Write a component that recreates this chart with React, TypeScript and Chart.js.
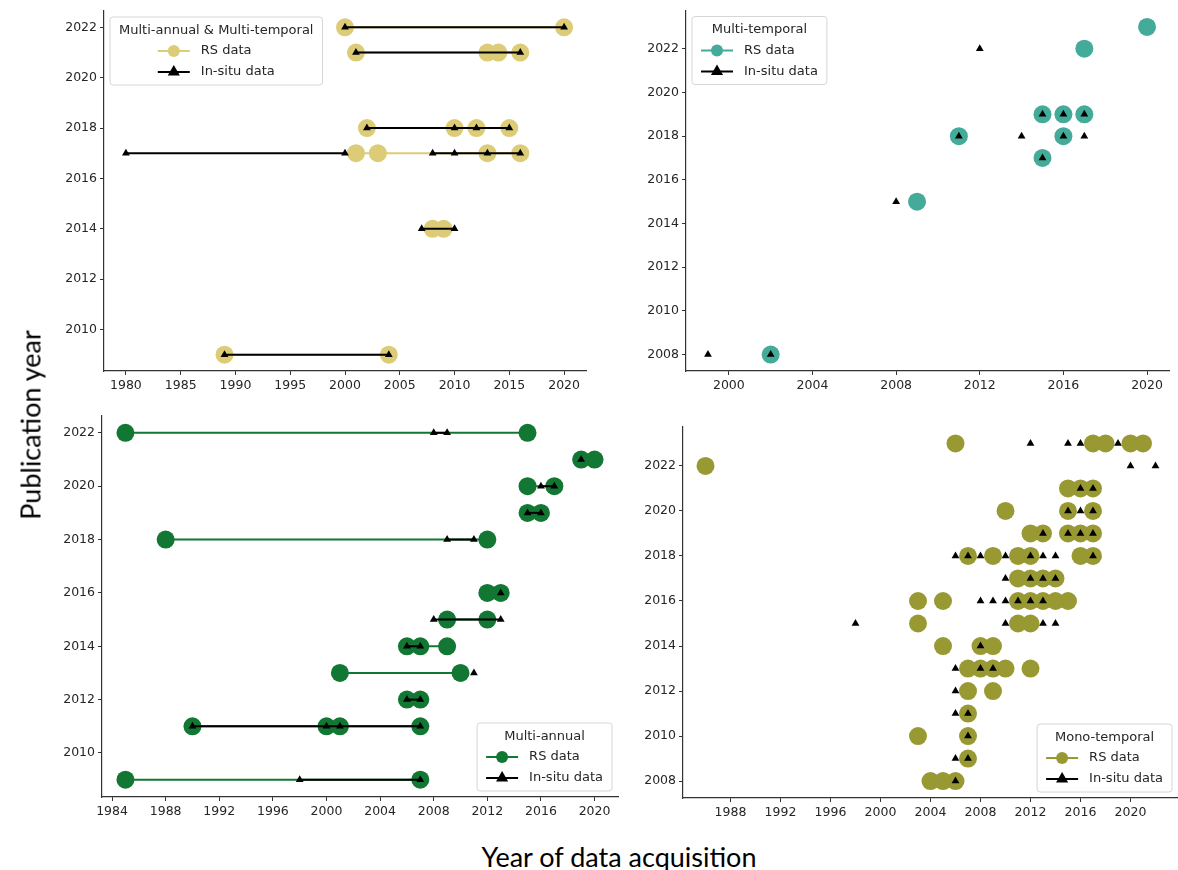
import React, { useEffect, useRef } from "react";
import { Chart, registerables } from "chart.js";

Chart.register(...registerables);

type Row = [number, number[]]; // [publication year, years of data acquisition]

const SAND = "#DDCC77";
const TEAL = "#44AA99";
const GREEN = "#117733";
const OLIVE = "#999933";

// ---------- Panel A: Multi-annual & Multi-temporal ----------
const mamtRs: Row[] = [
  [2022, [2000, 2020]],
  [2021, [2001, 2013, 2014, 2016]],
  [2018, [2002, 2010, 2012, 2015]],
  [2017, [2001, 2003, 2013, 2016]],
  [2014, [2008, 2009]],
  [2009, [1989, 2004]],
];
const mamtInsitu: Row[] = [
  [2022, [2000, 2020]],
  [2021, [2001, 2016]],
  [2018, [2002, 2010, 2012, 2015]],
  [2017, [1980, 2000]],
  [2017, [2008, 2010, 2013, 2016]],
  [2014, [2007, 2010]],
  [2009, [1989, 2004]],
];
const mamtXTicks = [1980, 1985, 1990, 1995, 2000, 2005, 2010, 2015, 2020];
const mamtYTicks = [2010, 2012, 2014, 2016, 2018, 2020, 2022];

// ---------- Panel B: Multi-temporal ----------
const mtRs: Row[] = [
  [2023, [2020]],
  [2022, [2017]],
  [2019, [2015, 2016, 2017]],
  [2018, [2011, 2016]],
  [2017, [2015]],
  [2015, [2009]],
  [2008, [2002]],
];
const mtInsitu: Row[] = [
  [2022, [2012]],
  [2019, [2015, 2016, 2017]],
  [2018, [2011, 2014, 2016, 2017]],
  [2017, [2015]],
  [2015, [2008]],
  [2008, [1999, 2002]],
];
const mtXTicks = [2000, 2004, 2008, 2012, 2016, 2020];
const mtYTicks = [2008, 2010, 2012, 2014, 2016, 2018, 2020, 2022];

// ---------- Panel C: Multi-annual ----------
const maRs: Row[] = [
  [2022, [1985, 2015]],
  [2021, [2019, 2020]],
  [2020, [2015, 2017]],
  [2019, [2015, 2016]],
  [2018, [1988, 2012]],
  [2016, [2012, 2013]],
  [2015, [2009, 2012]],
  [2014, [2006, 2007, 2009]],
  [2013, [2001, 2010]],
  [2012, [2006, 2007]],
  [2011, [1990, 2000, 2001, 2007]],
  [2009, [1985, 2007]],
];
const maInsitu: Row[] = [
  [2022, [2008, 2009]],
  [2021, [2019]],
  [2020, [2016, 2017]],
  [2019, [2015, 2016]],
  [2018, [2009, 2011]],
  [2016, [2013]],
  [2015, [2008, 2013]],
  [2014, [2006, 2007]],
  [2013, [2011]],
  [2012, [2006, 2007]],
  [2011, [1990, 2000, 2001, 2007]],
  [2009, [1998, 2007]],
];
const maXTicks = [1984, 1988, 1992, 1996, 2000, 2004, 2008, 2012, 2016, 2020];
const maYTicks = [2010, 2012, 2014, 2016, 2018, 2020, 2022];

// ---------- Panel D: Mono-temporal ----------
const monoRs: Row[] = [
  [2023, [2006, 2017, 2018, 2020, 2021]],
  [2022, [1986]],
  [2021, [2015, 2016, 2017]],
  [2020, [2010, 2015, 2017]],
  [2019, [2012, 2013, 2015, 2016, 2017]],
  [2018, [2007, 2009, 2011, 2012, 2016, 2017]],
  [2017, [2011, 2012, 2013, 2014]],
  [2016, [2003, 2005, 2011, 2012, 2013, 2014, 2015]],
  [2015, [2003, 2011, 2012]],
  [2014, [2005, 2008, 2009]],
  [2013, [2007, 2008, 2009, 2010, 2012]],
  [2012, [2007, 2009]],
  [2011, [2007]],
  [2010, [2003, 2007]],
  [2009, [2007]],
  [2008, [2004, 2005, 2006]],
];
const monoInsitu: Row[] = [
  [2023, [2012, 2015, 2016, 2019]],
  [2022, [2020, 2022]],
  [2021, [2016, 2017]],
  [2020, [2015, 2016, 2017]],
  [2019, [2013, 2015, 2016, 2017]],
  [2018, [2006, 2007, 2008, 2010, 2012, 2013, 2014, 2017]],
  [2017, [2010, 2012, 2013, 2014]],
  [2016, [2008, 2009, 2010, 2011, 2012, 2013]],
  [2015, [1998, 2010, 2013, 2014]],
  [2014, [2008]],
  [2013, [2006, 2008, 2009]],
  [2012, [2006]],
  [2011, [2006, 2007]],
  [2010, [2007]],
  [2009, [2006, 2007]],
  [2008, [2006]],
];
const monoXTicks = [1988, 1992, 1996, 2000, 2004, 2008, 2012, 2016, 2020];
const monoYTicks = [2008, 2010, 2012, 2014, 2016, 2018, 2020, 2022];

const FONT = '"DejaVu Sans", sans-serif';
const AXIS_COLOR = "#333333";
const TEXT_COLOR = "#262626";

type PanelProps = {
  left: number;
  top: number;
  width: number;
  height: number;
  padTop: number;
  padRight: number;
  xMin: number;
  xMax: number;
  yMin: number;
  yMax: number;
  xTicks: number[];
  yTicks: number[];
  rs: Row[];
  insitu: Row[];
  color: string;
  lines: boolean;
  title: string;
  corner: "tl" | "br";
};

function Panel(p: PanelProps) {
  const ref = useRef<HTMLCanvasElement | null>(null);

  useEffect(() => {
    if (!ref.current) return;

    const datasets: any[] = [];
    p.insitu.forEach(([pub, xs]) => {
      datasets.push({
        data: xs.map((x) => ({ x, y: pub })),
        showLine: p.lines,
        borderColor: "#000000",
        borderWidth: 2,
        pointStyle: "triangle",
        pointRadius: 4.5,
        pointBackgroundColor: "#000000",
        pointBorderColor: "#000000",
        pointBorderWidth: 0,
        order: 0,
        clip: false,
      });
    });
    p.rs.forEach(([pub, xs]) => {
      datasets.push({
        data: xs.map((x) => ({ x, y: pub })),
        showLine: p.lines,
        borderColor: p.color,
        borderWidth: 2,
        pointStyle: "circle",
        pointRadius: 9,
        pointBackgroundColor: p.color,
        pointBorderColor: p.color,
        pointBorderWidth: 0,
        order: 1,
        clip: false,
      });
    });

    const legendPlugin = {
      id: "panelLegend",
      afterDraw(chart: any) {
        const ctx = chart.ctx as CanvasRenderingContext2D;
        const ca = chart.chartArea;
        ctx.save();
        ctx.font = `13px ${FONT}`;
        const entries = ["RS data", "In-situ data"];
        const titleW = ctx.measureText(p.title).width;
        const textW = Math.max(...entries.map((e) => ctx.measureText(e).width));
        const handleL = 32;
        const gap = 11;
        const pad = 9;
        const entryW = handleL + gap + textW;
        const innerW = Math.max(titleW, entryW);
        const boxW = innerW + 2 * pad;
        const boxH = 68;
        const off = 6;
        const bx = p.corner === "tl" ? ca.left + off : ca.right - off - boxW;
        const by = p.corner === "tl" ? ca.top + off : ca.bottom - off - boxH;
        const r = 3;
        ctx.beginPath();
        ctx.moveTo(bx + r, by);
        ctx.lineTo(bx + boxW - r, by);
        ctx.arcTo(bx + boxW, by, bx + boxW, by + r, r);
        ctx.lineTo(bx + boxW, by + boxH - r);
        ctx.arcTo(bx + boxW, by + boxH, bx + boxW - r, by + boxH, r);
        ctx.lineTo(bx + r, by + boxH);
        ctx.arcTo(bx, by + boxH, bx, by + boxH - r, r);
        ctx.lineTo(bx, by + r);
        ctx.arcTo(bx, by, bx + r, by, r);
        ctx.closePath();
        ctx.fillStyle = "rgba(255,255,255,0.85)";
        ctx.fill();
        ctx.strokeStyle = "#d6d6d6";
        ctx.lineWidth = 1;
        ctx.stroke();
        ctx.fillStyle = TEXT_COLOR;
        ctx.textBaseline = "middle";
        ctx.textAlign = "center";
        ctx.fillText(p.title, bx + boxW / 2, by + 13.5);
        const sx = bx + (boxW - entryW) / 2;
        const rows = [by + 34, by + 55];
        const cols = [p.color, "#000000"];
        rows.forEach((yy, i) => {
          ctx.strokeStyle = cols[i];
          ctx.lineWidth = 2;
          ctx.beginPath();
          ctx.moveTo(sx, yy);
          ctx.lineTo(sx + handleL, yy);
          ctx.stroke();
          const cx = sx + handleL / 2;
          ctx.fillStyle = cols[i];
          ctx.beginPath();
          if (i === 0) {
            ctx.arc(cx, yy, 6, 0, Math.PI * 2);
          } else {
            const tr = 7;
            ctx.moveTo(cx, yy - tr);
            ctx.lineTo(cx + tr * 0.866, yy + tr / 2);
            ctx.lineTo(cx - tr * 0.866, yy + tr / 2);
            ctx.closePath();
          }
          ctx.fill();
          ctx.fillStyle = TEXT_COLOR;
          ctx.textAlign = "left";
          ctx.fillText(entries[i], sx + handleL + gap, yy);
        });
        ctx.restore();
      },
    };

    const tickScale = (vals: number[]) => (scale: any) => {
      scale.ticks = vals.map((v) => ({ value: v }));
    };

    const chart = new Chart(ref.current, {
      type: "scatter",
      data: { datasets },
      options: {
        animation: false,
        responsive: false,
        events: [],
        layout: { padding: { top: p.padTop, right: p.padRight, left: 0, bottom: 0 } },
        plugins: { legend: { display: false }, tooltip: { enabled: false } },
        scales: {
          x: {
            type: "linear",
            min: p.xMin,
            max: p.xMax,
            afterBuildTicks: tickScale(p.xTicks),
            afterFit: (s: any) => {
              s.height = 40;
            },
            ticks: {
              autoSkip: false,
              maxRotation: 0,
              padding: 3,
              color: TEXT_COLOR,
              font: { family: FONT, size: 12.5 },
              callback: (v: any) => String(v),
            },
            grid: {
              display: true,
              drawOnChartArea: false,
              drawTicks: true,
              tickLength: 4,
              color: AXIS_COLOR,
              lineWidth: 1,
            },
            border: { display: true, color: AXIS_COLOR, width: 1.2 },
          },
          y: {
            type: "linear",
            min: p.yMin,
            max: p.yMax,
            afterBuildTicks: tickScale(p.yTicks),
            afterFit: (s: any) => {
              s.width = 60;
            },
            ticks: {
              autoSkip: false,
              padding: 3,
              color: TEXT_COLOR,
              font: { family: FONT, size: 12.5 },
              callback: (v: any) => String(v),
            },
            grid: {
              display: true,
              drawOnChartArea: false,
              drawTicks: true,
              tickLength: 4,
              color: AXIS_COLOR,
              lineWidth: 1,
            },
            border: { display: true, color: AXIS_COLOR, width: 1.2 },
          },
        },
      } as any,
      plugins: [legendPlugin],
    });

    return () => chart.destroy();
  }, []);

  return (
    <canvas
      ref={ref}
      width={p.width}
      height={p.height}
      style={{ position: "absolute", left: p.left, top: p.top, width: p.width, height: p.height }}
    />
  );
}

export default function App() {
  return (
    <div
      style={{
        position: "absolute",
        left: 0,
        top: 0,
        width: 1178,
        height: 870,
        overflow: "hidden",
        background: "#ffffff",
      }}
    >
      <Panel
        left={44}
        top={0}
        width={554}
        height={411}
        padTop={11}
        padRight={12}
        xMin={1978}
        xMax={2022}
        yMin={2008.35}
        yMax={2022.65}
        xTicks={mamtXTicks}
        yTicks={mamtYTicks}
        rs={mamtRs}
        insitu={mamtInsitu}
        color={SAND}
        lines={true}
        title="Multi-annual & Multi-temporal"
        corner="tl"
      />
      <Panel
        left={626}
        top={0}
        width={552}
        height={411}
        padTop={10}
        padRight={9}
        xMin={1997.95}
        xMax={2021.05}
        yMin={2007.25}
        yMax={2023.75}
        xTicks={mtXTicks}
        yTicks={mtYTicks}
        rs={mtRs}
        insitu={mtInsitu}
        color={TEAL}
        lines={false}
        title="Multi-temporal"
        corner="tl"
      />
      <Panel
        left={42}
        top={405}
        width={586}
        height={432}
        padTop={10}
        padRight={10}
        xMin={1983.25}
        xMax={2021.75}
        yMin={2008.35}
        yMax={2022.65}
        xTicks={maXTicks}
        yTicks={maYTicks}
        rs={maRs}
        insitu={maInsitu}
        color={GREEN}
        lines={true}
        title="Multi-annual"
        corner="br"
      />
      <Panel
        left={623}
        top={416}
        width={564}
        height={422}
        padTop={10}
        padRight={5}
        xMin={1984.2}
        xMax={2023.8}
        yMin={2007.25}
        yMax={2023.75}
        xTicks={monoXTicks}
        yTicks={monoYTicks}
        rs={monoRs}
        insitu={monoInsitu}
        color={OLIVE}
        lines={false}
        title="Mono-temporal"
        corner="br"
      />
      <div
        style={{
          position: "absolute",
          left: 30,
          top: 425,
          transform: "translate(-50%, -50%) rotate(-90deg)",
          fontFamily: "Lato, 'Open Sans', sans-serif",
          fontSize: 27,
          color: "#000",
          whiteSpace: "nowrap",
        }}
      >
        Publication year
      </div>
      <div
        style={{
          position: "absolute",
          left: 619,
          top: 856,
          transform: "translate(-50%, -50%)",
          fontFamily: "Lato, 'Open Sans', sans-serif",
          fontSize: 27,
          color: "#000",
          whiteSpace: "nowrap",
        }}
      >
        Year of data acquisition
      </div>
    </div>
  );
}
